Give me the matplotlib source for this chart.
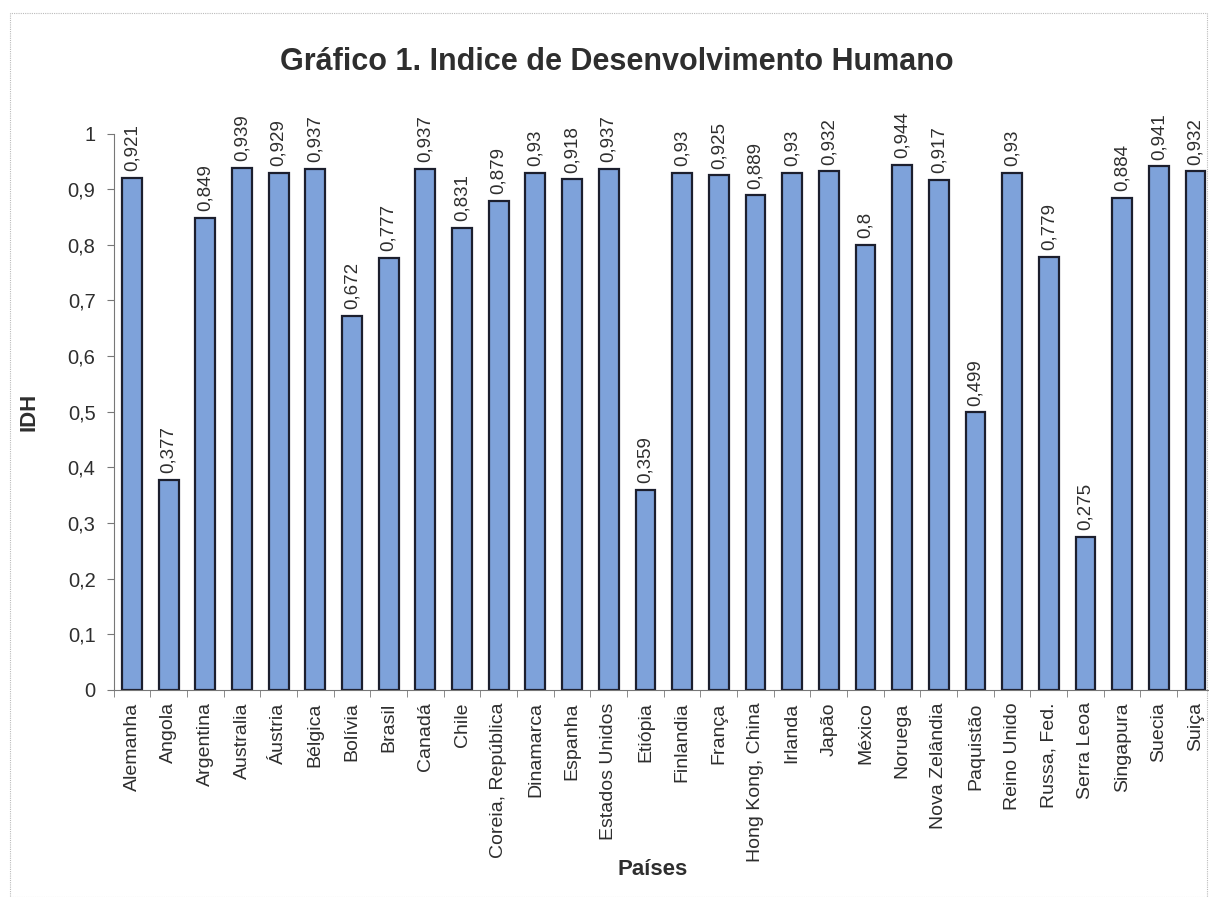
#!/usr/bin/env python3
"""Gráfico 1 - IDH por país, barras estilo Excel."""
import matplotlib
matplotlib.use("Agg")
import matplotlib.pyplot as plt
from matplotlib.patches import Rectangle
from matplotlib.ticker import MultipleLocator, FuncFormatter
import numpy as np

plt.rcParams.update({"font.family": ["Liberation Sans", "DejaVu Sans"]})

paises = ["Alemanha", "Angola", "Argentina", "Australia", "Áustria", "Bélgica",
          "Bolívia", "Brasil", "Canadá", "Chile", "Coreia, República", "Dinamarca",
          "Espanha", "Estados Unidos", "Etiópia", "Finlandia", "França",
          "Hong Kong, China", "Irlanda", "Japão", "México", "Noruega",
          "Nova Zelândia", "Paquistão", "Reino Unido", "Russa, Fed.", "Serra Leoa",
          "Singapura", "Suecia", "Suiça"]
idh = [0.921, 0.377, 0.849, 0.939, 0.929, 0.937, 0.672, 0.777, 0.937, 0.831,
       0.879, 0.93, 0.918, 0.937, 0.359, 0.93, 0.925, 0.889, 0.93, 0.932,
       0.8, 0.944, 0.917, 0.499, 0.93, 0.779, 0.275, 0.884, 0.941, 0.932]

BAR = "#7ea2da"; EDGE = "#1c1f2e"; TXT = "#2e2e2e"; AX = "#777777"

fig = plt.figure(figsize=(12.09, 8.97), dpi=100)
fig.patches.append(Rectangle((0.008, 0.0), 0.99, 0.985, transform=fig.transFigure,
                             fill=False, ec="#bbbbbb", lw=0.8, ls=(0, (1, 1))))
ax = fig.add_axes([0.094, 0.231, 0.91, 0.620])

x = np.arange(len(paises))
bars = ax.bar(x, idh, width=0.54, color=BAR, edgecolor=EDGE, linewidth=1.6)
for xi, v in zip(x, idh):
    lab = f"{v:g}".replace(".", ",")
    ax.text(xi, v + 0.012, lab, rotation=90, ha="center", va="bottom",
            fontsize=13.5, color=TXT, clip_on=False)

ax.set_xlim(-0.5, len(paises) - 0.5)
ax.set_ylim(0, 1)
ax.yaxis.set_major_locator(MultipleLocator(0.1))
ax.yaxis.set_major_formatter(FuncFormatter(lambda v, p: f"{v:.1f}".replace(".", ",").replace(",0", "")))
ax.set_xticks(x)
ax.set_xticklabels(paises, rotation=90, fontsize=14, color=TXT)
ax.set_xticks(np.arange(len(paises) + 1) - 0.5, minor=True)
ax.tick_params(axis="x", which="major", length=0, pad=9)
ax.tick_params(axis="x", which="minor", length=5, color=AX)
ax.tick_params(axis="y", length=5, color=AX, labelsize=14.5, labelcolor=TXT, pad=8)
for s in ("top", "right"):
    ax.spines[s].set_visible(False)
for s in ("left", "bottom"):
    ax.spines[s].set_color(AX)

ax.set_ylabel("IDH", fontsize=16, fontweight="bold", color=TXT, labelpad=20)
ax.set_xlabel("Países", fontsize=16, fontweight="bold", color=TXT, labelpad=2)
ax.xaxis.set_label_coords(0.49, -0.305)
fig.text(0.51, 0.931, "Gráfico 1. Indice de Desenvolvimento Humano", ha="center",
         va="center", fontsize=22, fontweight="bold", color=TXT)

fig.savefig("out.png", dpi=100)
